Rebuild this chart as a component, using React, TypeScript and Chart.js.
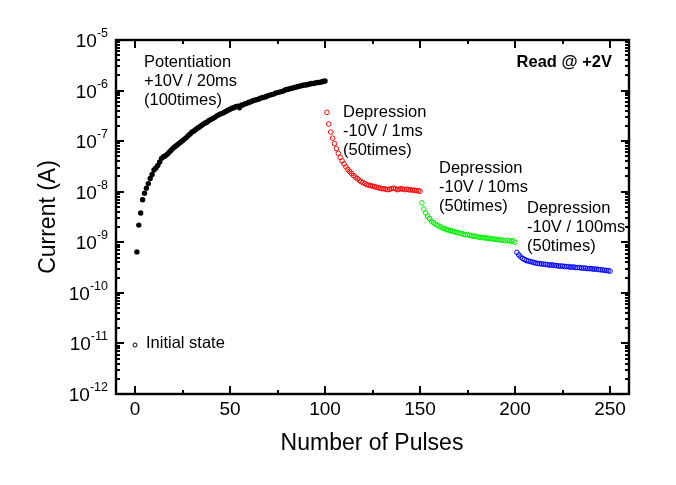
import { useEffect, useRef } from "react";
import { Chart, registerables } from "chart.js";

Chart.register(...registerables);

// ---- data ----
const initialPulse = [0];
const initialCurrent = [9.3e-12];

const potentiationStart = 1;
const potentiationLogI = [
  -9.19, -8.66, -8.42, -8.16, -8.03, -7.93, -7.84, -7.74, -7.66, -7.57,
  -7.53, -7.48, -7.41, -7.34, -7.31, -7.29, -7.26, -7.22, -7.18, -7.14,
  -7.11, -7.08, -7.05, -7.02, -6.99, -6.96, -6.93, -6.89, -6.86, -6.82,
  -6.8, -6.77, -6.74, -6.72, -6.69, -6.66, -6.64, -6.62, -6.59, -6.57,
  -6.55, -6.53, -6.5, -6.48, -6.46, -6.45, -6.43, -6.41, -6.39, -6.37,
  -6.35, -6.34, -6.32, -6.31, -6.34, -6.29, -6.28, -6.26, -6.25, -6.23,
  -6.22, -6.2, -6.19, -6.18, -6.17, -6.15, -6.14, -6.13, -6.12, -6.1,
  -6.09, -6.08, -6.07, -6.05, -6.04, -6.03, -6.02, -6.01, -5.99, -5.98,
  -5.97, -5.96, -5.95, -5.94, -5.93, -5.92, -5.91, -5.9, -5.89, -5.89,
  -5.88, -5.87, -5.86, -5.86, -5.85, -5.84, -5.84, -5.83, -5.82, -5.81,
];

const depression1Start = 101;
const depression1LogI = [
  -6.43, -6.66, -6.82, -6.94, -7.05, -7.15, -7.24, -7.32, -7.39, -7.45,
  -7.51, -7.56, -7.6, -7.64, -7.68, -7.71, -7.74, -7.77, -7.8, -7.82,
  -7.84, -7.86, -7.87, -7.88, -7.89, -7.9, -7.91, -7.92, -7.93, -7.94,
  -7.94, -7.95, -7.96, -7.95, -7.94, -7.93, -7.94, -7.96, -7.95, -7.94,
  -7.95, -7.96, -7.95, -7.96, -7.96, -7.97, -7.97, -7.98, -7.98, -7.99,
];

const depression10Start = 151;
const depression10LogI = [
  -8.22, -8.34, -8.42, -8.48, -8.53, -8.58, -8.61, -8.64, -8.66, -8.68,
  -8.7, -8.72, -8.73, -8.75, -8.76, -8.77, -8.78, -8.79, -8.8, -8.81,
  -8.82, -8.83, -8.84, -8.85, -8.85, -8.86, -8.87, -8.88, -8.88, -8.89,
  -8.9, -8.9, -8.91, -8.91, -8.92, -8.92, -8.93, -8.93, -8.94, -8.94,
  -8.95, -8.95, -8.96, -8.96, -8.97, -8.96, -8.97, -8.98, -8.97, -9.0,
];

const depression100Start = 201;
const depression100LogI = [
  -9.2, -9.25, -9.29, -9.32, -9.34, -9.36, -9.37, -9.38, -9.39, -9.4,
  -9.41, -9.42, -9.42, -9.43, -9.43, -9.44, -9.44, -9.45, -9.45, -9.45,
  -9.46, -9.46, -9.47, -9.47, -9.47, -9.48, -9.48, -9.48, -9.49, -9.49,
  -9.49, -9.5, -9.5, -9.5, -9.51, -9.51, -9.51, -9.52, -9.52, -9.52,
  -9.53, -9.53, -9.53, -9.54, -9.54, -9.55, -9.55, -9.56, -9.56, -9.57,
];

const xMajorTicks = [0, 50, 100, 150, 200, 250];
const xMinorTicks = [25, 75, 125, 175, 225];
const yDecadeExponents = [-12, -11, -10, -9, -8, -7, -6, -5];

const xTitle = "Number of Pulses";
const yTitle = "Current (A)";

const FONT = "'Liberation Sans', Arial, sans-serif";

function toPoints(start: number, logs: number[]) {
  return logs.map((v, i) => ({ x: start + i, y: Math.pow(10, v) }));
}

const framePlugin = {
  id: "originFrame",
  afterDraw(chart: any) {
    const ctx = chart.ctx as CanvasRenderingContext2D;
    const { left, right, top, bottom } = chart.chartArea;
    const xs = chart.scales.x;
    const ys = chart.scales.y;
    ctx.save();
    ctx.strokeStyle = "#000";
    ctx.fillStyle = "#000";
    ctx.lineWidth = 2.4;
    ctx.lineCap = "butt";
    ctx.strokeRect(left, top, right - left, bottom - top);

    // x ticks
    const drawXTick = (v: number, len: number) => {
      const px = Math.round(xs.getPixelForValue(v));
      ctx.beginPath();
      ctx.moveTo(px, bottom);
      ctx.lineTo(px, bottom - len);
      ctx.moveTo(px, top);
      ctx.lineTo(px, top + len);
      ctx.stroke();
    };
    ctx.lineWidth = 2;
    xMajorTicks.forEach((v) => drawXTick(v, 8));
    xMinorTicks.forEach((v) => drawXTick(v, 4));

    // y ticks
    const drawYTick = (v: number, len: number) => {
      const py = Math.round(ys.getPixelForValue(v));
      ctx.beginPath();
      ctx.moveTo(left, py);
      ctx.lineTo(left + len, py);
      ctx.moveTo(right, py);
      ctx.lineTo(right - len, py);
      ctx.stroke();
    };
    yDecadeExponents.forEach((e, i) => {
      drawYTick(Math.pow(10, e), 8);
      if (i < yDecadeExponents.length - 1) {
        for (let k = 2; k <= 9; k++) drawYTick(k * Math.pow(10, e), 4);
      }
    });

    // x tick labels
    ctx.font = `19px ${FONT}`;
    ctx.textAlign = "center";
    ctx.textBaseline = "alphabetic";
    xMajorTicks.forEach((v) => {
      ctx.fillText(String(v), xs.getPixelForValue(v), bottom + 21);
    });

    // y tick labels 10^e
    yDecadeExponents.forEach((e) => {
      const py = ys.getPixelForValue(Math.pow(10, e));
      const sup = String(e);
      ctx.font = `12.5px ${FONT}`;
      const supW = ctx.measureText(sup).width;
      ctx.font = `19px ${FONT}`;
      const baseW = ctx.measureText("10").width;
      const rightX = left - 8;
      ctx.textAlign = "left";
      ctx.fillText("10", rightX - supW - baseW, py + 7);
      ctx.font = `12.5px ${FONT}`;
      ctx.fillText(sup, rightX - supW, py - 3);
    });

    // axis titles
    ctx.font = `23px ${FONT}`;
    ctx.textAlign = "center";
    ctx.fillText(xTitle, (left + right) / 2 - 0.5, bottom + 56);
    ctx.save();
    ctx.translate(55, (top + bottom) / 2);
    ctx.rotate(-Math.PI / 2);
    ctx.fillText(yTitle, 0, 0);
    ctx.restore();

    // annotations
    ctx.textAlign = "left";
    ctx.font = `16.5px ${FONT}`;
    const lines = (x: number, y0: number, arr: string[], step: number) => {
      arr.forEach((t, i) => ctx.fillText(t, x, y0 + i * step));
    };
    lines(144, 67, ["Potentiation", "+10V / 20ms", "(100times)"], 19);
    lines(343, 117, ["Depression", "-10V / 1ms", "(50times)"], 19);
    lines(439, 173, ["Depression", "-10V / 10ms", "(50times)"], 19);
    lines(527, 213, ["Depression", "-10V / 100ms", "(50times)"], 19);
    ctx.fillText("Initial state", 146, 348);
    ctx.font = `bold 16.5px ${FONT}`;
    ctx.textAlign = "right";
    ctx.fillText("Read @ +2V", 612, 67);
    ctx.restore();
  },
};

export default function App() {
  const ref = useRef<HTMLCanvasElement | null>(null);
  useEffect(() => {
    if (!ref.current) return;
    const chart = new Chart(ref.current, {
      type: "scatter",
      data: {
        datasets: [
          {
            label: "Initial state",
            data: initialPulse.map((x, i) => ({ x, y: initialCurrent[i] })),
            pointRadius: 2,
            pointBorderWidth: 1,
            pointBorderColor: "#000",
            pointBackgroundColor: "rgba(0,0,0,0)",
            showLine: false,
          },
          {
            label: "Potentiation",
            data: toPoints(potentiationStart, potentiationLogI),
            pointRadius: 2.7,
            pointBorderWidth: 0,
            pointBackgroundColor: "#000",
            pointBorderColor: "#000",
            showLine: false,
          },
          {
            label: "Depression 1ms",
            data: toPoints(depression1Start, depression1LogI),
            pointRadius: 2.3,
            pointBorderWidth: 1,
            pointBorderColor: "#ff0000",
            pointBackgroundColor: "rgba(0,0,0,0)",
            showLine: false,
          },
          {
            label: "Depression 10ms",
            data: toPoints(depression10Start, depression10LogI),
            pointRadius: 2.3,
            pointBorderWidth: 1,
            pointBorderColor: "#00ee00",
            pointBackgroundColor: "rgba(0,0,0,0)",
            showLine: false,
          },
          {
            label: "Depression 100ms",
            data: toPoints(depression100Start, depression100LogI),
            pointRadius: 2.3,
            pointBorderWidth: 1,
            pointBorderColor: "#0000ff",
            pointBackgroundColor: "rgba(0,0,0,0)",
            showLine: false,
          },
        ],
      },
      options: {
        responsive: false,
        animation: false,
        devicePixelRatio: 1,
        layout: { padding: { left: 116, top: 40, right: 47, bottom: 91 } },
        plugins: { legend: { display: false }, tooltip: { enabled: false } },
        scales: {
          x: { type: "linear", min: -10, max: 260, display: false },
          y: { type: "logarithmic", min: 1e-12, max: 1e-5, display: false },
        },
      },
      plugins: [framePlugin],
    });
    return () => chart.destroy();
  }, []);
  return (
    <div style={{ position: "absolute", left: 0, top: 0, width: 676, height: 485, background: "#fff" }}>
      <canvas ref={ref} width={676} height={485} style={{ display: "block" }} />
    </div>
  );
}
